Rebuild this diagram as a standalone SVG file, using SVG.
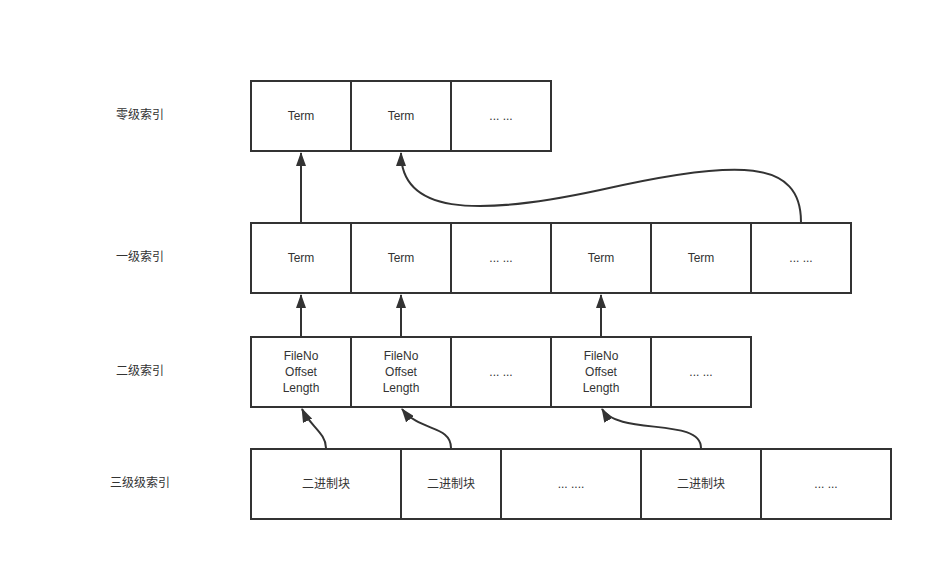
<svg xmlns="http://www.w3.org/2000/svg" width="951" height="579" viewBox="0 0 951 579">
<defs>
<style>
.c{fill:#fff;stroke:#333;stroke-width:2}
.t{font-family:"Liberation Sans","Noto Sans CJK SC",sans-serif;font-size:12px;fill:#333;text-anchor:middle;dominant-baseline:central}
.e{fill:none;stroke:#333;stroke-width:2}
</style>
<marker id="ah" viewBox="0 0 14 10" refX="13" refY="5" markerWidth="7" markerHeight="5" orient="auto" markerUnits="strokeWidth">
<path d="M0,0 L14,5 L0,10 Z" fill="#333"/>
</marker>
</defs>
<rect width="951" height="579" fill="#fff"/>
<g id="labels">
<text class="t" x="140" y="115">零级索引</text>
<text class="t" x="140" y="257">一级索引</text>
<text class="t" x="140" y="371">二级索引</text>
<text class="t" x="140" y="483">三级级索引</text>
</g>
<g id="row0">
<g id="r0c0"><rect class="c" x="251" y="81" width="100" height="70"/><text class="t" x="301" y="116">Term</text></g>
<g id="r0c1"><rect class="c" x="351" y="81" width="100" height="70"/><text class="t" x="401" y="116">Term</text></g>
<g id="r0c2"><rect class="c" x="451" y="81" width="100" height="70"/><text class="t" x="501" y="116">... ...</text></g>
</g>
<g id="row1">
<g id="r1c0"><rect class="c" x="251" y="223" width="100" height="70"/><text class="t" x="301" y="258">Term</text></g>
<g id="r1c1"><rect class="c" x="351" y="223" width="100" height="70"/><text class="t" x="401" y="258">Term</text></g>
<g id="r1c2"><rect class="c" x="451" y="223" width="100" height="70"/><text class="t" x="501" y="258">... ...</text></g>
<g id="r1c3"><rect class="c" x="551" y="223" width="100" height="70"/><text class="t" x="601" y="258">Term</text></g>
<g id="r1c4"><rect class="c" x="651" y="223" width="100" height="70"/><text class="t" x="701" y="258">Term</text></g>
<g id="r1c5"><rect class="c" x="751" y="223" width="100" height="70"/><text class="t" x="801" y="258">... ...</text></g>
</g>
<g id="row2">
<g id="r2c0"><rect class="c" x="251" y="337" width="100" height="70"/><text class="t" x="301" y="356">FileNo</text><text class="t" x="301" y="372">Offset</text><text class="t" x="301" y="388">Length</text></g>
<g id="r2c1"><rect class="c" x="351" y="337" width="100" height="70"/><text class="t" x="401" y="356">FileNo</text><text class="t" x="401" y="372">Offset</text><text class="t" x="401" y="388">Length</text></g>
<g id="r2c2"><rect class="c" x="451" y="337" width="100" height="70"/><text class="t" x="501" y="372">... ...</text></g>
<g id="r2c3"><rect class="c" x="551" y="337" width="100" height="70"/><text class="t" x="601" y="356">FileNo</text><text class="t" x="601" y="372">Offset</text><text class="t" x="601" y="388">Length</text></g>
<g id="r2c4"><rect class="c" x="651" y="337" width="100" height="70"/><text class="t" x="701" y="372">... ...</text></g>
</g>
<g id="row3">
<g id="r3c0"><rect class="c" x="251" y="449" width="150" height="70"/><text class="t" x="326" y="484">二进制块</text></g>
<g id="r3c1"><rect class="c" x="401" y="449" width="100" height="70"/><text class="t" x="451" y="484">二进制块</text></g>
<g id="r3c2"><rect class="c" x="501" y="449" width="140" height="70"/><text class="t" x="571" y="484">... ....</text></g>
<g id="r3c3"><rect class="c" x="641" y="449" width="120" height="70"/><text class="t" x="701" y="484">二进制块</text></g>
<g id="r3c4"><rect class="c" x="761" y="449" width="130" height="70"/><text class="t" x="826" y="484">... ...</text></g>
</g>
<g id="connectors">
<path class="e" d="M301,222 L301,153" marker-end="url(#ah)"/>
<path class="e" d="M801,222 C801,160 740,158 600,190 C470,218 401,212 401,153" marker-end="url(#ah)"/>
<path class="e" d="M301,336 L301,295" marker-end="url(#ah)"/>
<path class="e" d="M401,336 L401,295" marker-end="url(#ah)"/>
<path class="e" d="M601,336 L601,295" marker-end="url(#ah)"/>
<path class="e" d="M326,448 C326,433 310,426 302,409" marker-end="url(#ah)"/>
<path class="e" d="M451,448 C451,425 420,432 402,409" marker-end="url(#ah)"/>
<path class="e" d="M701,448 C701,417 618,436 602,409" marker-end="url(#ah)"/>
</g>
</svg>
